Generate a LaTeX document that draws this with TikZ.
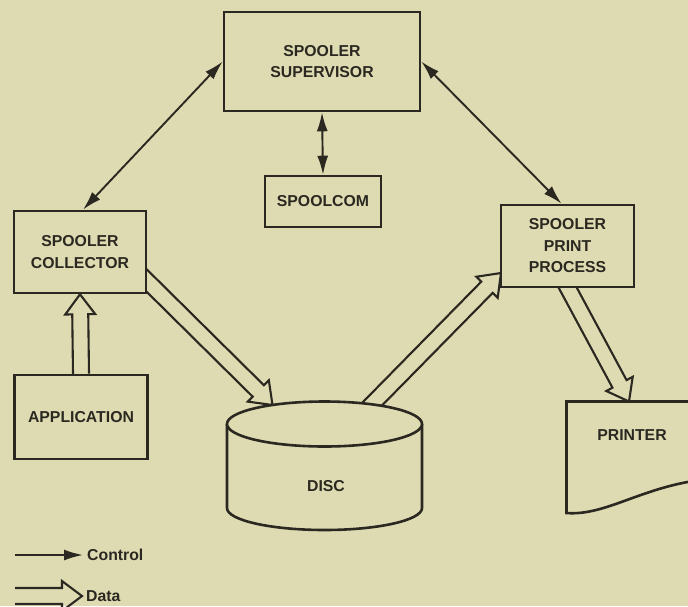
\documentclass[tikz,border=0pt]{standalone}
\usepackage{fontspec}
\setsansfont{Liberation Sans}
\usetikzlibrary{calc,arrows.meta,backgrounds}
\definecolor{paper}{RGB}{222,219,178}
\definecolor{ink}{RGB}{42,40,32}
\newcommand{\dataflow}[2]{%
  \coordinate (hb) at ($(#2)!20pt!(#1)$);
  \draw [data] ($(#1)!8pt!90:(#2)$) -- ($(hb)!8pt!-90:(#1)$) -- ($(hb)!15pt!-90:(#1)$)
    -- (#2) -- ($(hb)!15pt!90:(#1)$) -- ($(hb)!8pt!90:(#1)$) -- ($(#1)!8pt!-90:(#2)$);
}
\begin{document}
\begin{tikzpicture}[x=1pt,y=-1pt,
    every node/.style={font=\sffamily\bfseries\fontsize{15.8}{21.5}\selectfont,text=ink,align=center},
    box/.style={draw=ink,line width=2.6pt,fill=paper,inner sep=0pt},
    ctrl/.style={draw=ink,line width=1.9pt,>={Latex[length=19pt,width=11pt]}},
    data/.style={draw=ink,line width=2.1pt,line join=miter}]
  \useasboundingbox (0,0) rectangle (688,606);
  \begin{scope}[on background layer]
    \fill [paper] (0,0) rectangle (688,606);
  \end{scope}
  \node [box,minimum width=196pt,minimum height=99pt] (sup) at (322,61.5) {SPOOLER\\SUPERVISOR};
  \node [box,minimum width=116pt,minimum height=51pt] (spc) at (323,201.5) {SPOOLCOM};
  \node [box,minimum width=132pt,minimum height=82pt] (coll) at (80,252) {SPOOLER\\COLLECTOR};
  \node [box,minimum width=133pt,minimum height=82pt] (prt) at (567.5,246) {SPOOLER\\PRINT\\PROCESS};
  \node [box,minimum width=133pt,minimum height=84pt] (app) at (81,417) {APPLICATION};
  \draw [ink,line width=2.6pt,fill=paper] (227,424) -- (227,508)
    arc [start angle=180,end angle=0,x radius=97.5,y radius=22] -- (422,424);
  \draw [ink,line width=2.6pt,fill=paper] (324.5,424) ellipse [x radius=97.5,y radius=22.5];
  \node (disc) at (326,486) {DISC};
  \draw [ink,line width=2.6pt] (700,401.5) -- (566.5,401.5) -- (566.5,513)
    .. controls (605,516) and (640,488) .. (700,480);
  \node (ptr) at (632,435) {PRINTER};
  \draw [ctrl,<->] (sup.west) -- ([xshift=3pt]coll.north);
  \draw [ctrl,<->] (sup.east) -- ([xshift=-6pt]prt.north);
  \draw [ctrl,<->] (sup.south) -- (spc.north);
  \coordinate (c0) at (133,267);
  \coordinate (d0) at (272.5,405);
  \coordinate (d1) at (356.5,420);
  \coordinate (p0) at (501,273);
  \coordinate (p1) at (555.5,265);
  \coordinate (r0) at (629,401.5);
  \begin{scope}[on background layer]
    \dataflow{app.north}{coll.south}
    \dataflow{c0}{d0}
    \dataflow{d1}{p0}
    \dataflow{p1}{r0}
  \end{scope}
  \coordinate (lc) at (15,555);
  \node [anchor=west,inner sep=4pt] (lctl) at (83,555) {Control};
  \draw [ctrl,->] (lc) -- (lctl.west);
  \coordinate (ld) at (15,596);
  \node [anchor=west,inner sep=4pt] (ldat) at (82,596) {Data};
  \dataflow{ld}{ldat.west}
\end{tikzpicture}
\end{document}
